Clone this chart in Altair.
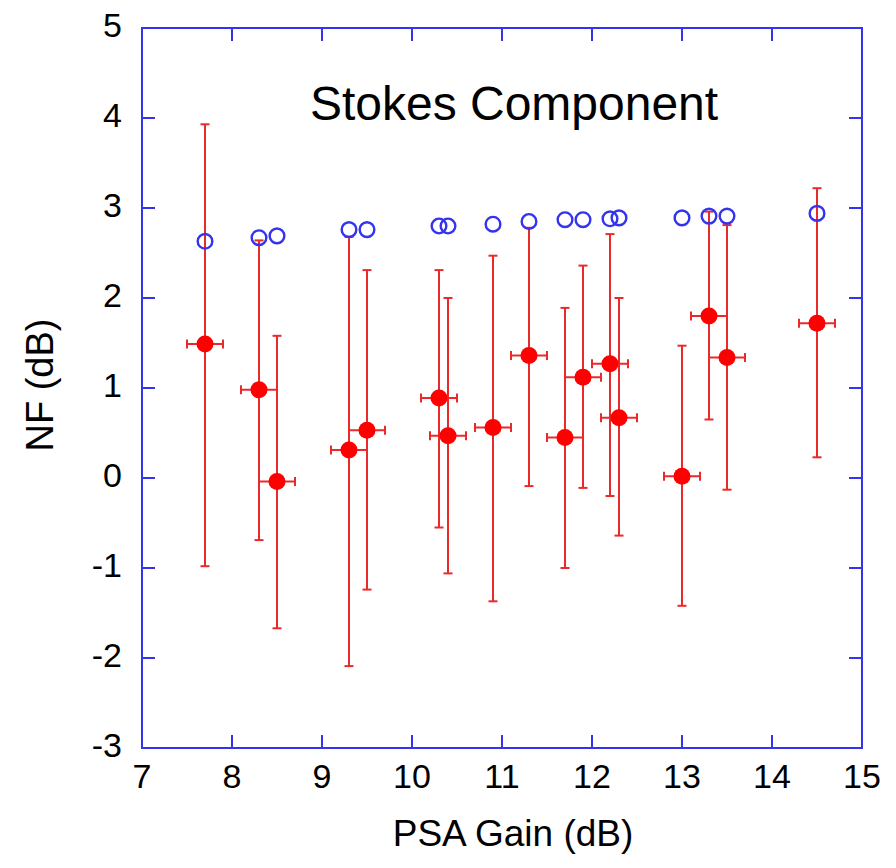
import altair as alt
import pandas as pd

# ---- data ----
gain = [7.7, 8.3, 8.5, 9.3, 9.5, 10.3, 10.4, 10.9, 11.3, 11.7, 11.9, 12.2, 12.3, 13.0, 13.3, 13.5, 14.5]
gain_err = [0.2] * 17
nf_meas = [1.49, 0.98, -0.04, 0.31, 0.53, 0.89, 0.47, 0.56, 1.36, 0.45, 1.12, 1.27, 0.67, 0.02, 1.80, 1.34, 1.72]
nf_hi = [3.93, 2.64, 1.58, 2.68, 2.31, 2.31, 2.00, 2.47, 2.78, 1.89, 2.36, 2.71, 2.00, 1.47, 2.96, 2.81, 3.22]
nf_lo = [-0.98, -0.69, -1.67, -2.09, -1.24, -0.55, -1.06, -1.37, -0.09, -1.00, -0.11, -0.20, -0.64, -1.42, 0.65, -0.13, 0.23]
nf_theory = [2.63, 2.67, 2.69, 2.76, 2.76, 2.80, 2.80, 2.82, 2.85, 2.87, 2.87, 2.88, 2.89, 2.89, 2.91, 2.91, 2.94]

x_labels = [7, 8, 9, 10, 11, 12, 13, 14, 15]
y_labels = [-3, -2, -1, 0, 1, 2, 3, 4, 5]
x_inner_ticks = [8, 9, 10, 11, 12, 13, 14]
y_inner_ticks = [-2, -1, 0, 1, 2, 3, 4]
title_text = ["Stokes Component"]
x_title = ["PSA Gain (dB)"]
y_title = ["NF (dB)"]

df = pd.DataFrame({
    "gain": gain,
    "gerr": gain_err,
    "nf": nf_meas,
    "hi": nf_hi,
    "lo": nf_lo,
    "theory": nf_theory,
})
df["glo"] = df["gain"] - df["gerr"]
df["ghi"] = df["gain"] + df["gerr"]

BLUE = "#3434ee"
RED = "#ff0000"
EB = "#ea2a2a"
FONT = "Liberation Sans"
W = 720
H = 720
TICK = 13
LBL = 34
TTL = 37

xs = alt.Scale(domain=[7, 15], nice=False, zero=False)
ys = alt.Scale(domain=[-3, 5], nice=False, zero=False)

base = alt.Chart(df)
X = lambda f: alt.X(f, scale=xs, axis=None)
Y = lambda f: alt.Y(f, scale=ys, axis=None)

vbars = base.mark_rule(color=EB, strokeWidth=2).encode(x=X("gain:Q"), y=Y("lo:Q"), y2="hi:Q")
cap_hi = base.mark_tick(orient="horizontal", color=EB, size=9, thickness=2, opacity=1).encode(
    x=X("gain:Q"), y=Y("hi:Q"))
cap_lo = base.mark_tick(orient="horizontal", color=EB, size=9, thickness=2, opacity=1).encode(
    x=X("gain:Q"), y=Y("lo:Q"))
hbars = base.mark_rule(color=EB, strokeWidth=2).encode(x=X("glo:Q"), x2="ghi:Q", y=Y("nf:Q"))
cap_l = base.mark_tick(orient="vertical", color=EB, size=9, thickness=2, opacity=1).encode(
    x=X("glo:Q"), y=Y("nf:Q"))
cap_r = base.mark_tick(orient="vertical", color=EB, size=9, thickness=2, opacity=1).encode(
    x=X("ghi:Q"), y=Y("nf:Q"))
dots = base.mark_point(shape="circle", filled=True, size=290, color=RED, opacity=1).encode(
    x=X("gain:Q"), y=Y("nf:Q"))
rings = base.mark_point(shape="circle", filled=False, size=215, color=BLUE, strokeWidth=2.4, opacity=1).encode(
    x=X("gain:Q"), y=Y("theory:Q"))

xt = alt.Chart(pd.DataFrame({"t": x_inner_ticks}))
yt = alt.Chart(pd.DataFrame({"t": y_inner_ticks}))
tick_bottom = xt.mark_rule(color=BLUE, strokeWidth=2).encode(
    x=X("t:Q"), y=alt.value(H), y2=alt.value(H - TICK))
tick_top = xt.mark_rule(color=BLUE, strokeWidth=2).encode(
    x=X("t:Q"), y=alt.value(0), y2=alt.value(TICK))
tick_left = yt.mark_rule(color=BLUE, strokeWidth=2).encode(
    y=Y("t:Q"), x=alt.value(0), x2=alt.value(TICK))
tick_right = yt.mark_rule(color=BLUE, strokeWidth=2).encode(
    y=Y("t:Q"), x=alt.value(W), x2=alt.value(W - TICK))

# axis labels drawn through the scales (plain hyphen minus, as in the reference)
xl = alt.Chart(pd.DataFrame({"v": x_labels})).mark_text(
    font=FONT, fontSize=LBL, color="black", align="center", baseline="alphabetic"
).encode(x=X("v:Q"), y=alt.value(H + 40), text="v:N")
yl = alt.Chart(pd.DataFrame({"v": y_labels})).mark_text(
    font=FONT, fontSize=LBL, color="black", align="right", baseline="middle", dy=-1
).encode(y=Y("v:Q"), x=alt.value(-20), text="v:N")

xtitle = alt.Chart(pd.DataFrame({"label": x_title})).mark_text(
    font=FONT, fontSize=TTL, color="black", align="center", baseline="alphabetic"
).encode(text="label:N", x=alt.value(W / 2 + 11), y=alt.value(H + 98))
ytitle = alt.Chart(pd.DataFrame({"label": y_title})).mark_text(
    font=FONT, fontSize=38, color="black", align="center", baseline="alphabetic", angle=270
).encode(text="label:N", x=alt.value(-89), y=alt.value(H / 2 - 3))

title = alt.Chart(pd.DataFrame({"label": title_text})).mark_text(
    font=FONT, fontSize=48, color="black", align="center", baseline="alphabetic"
).encode(text="label:N", x=alt.value(372), y=alt.value(92))

chart = alt.layer(
    vbars, cap_hi, cap_lo, hbars, cap_l, cap_r, dots, rings,
    tick_bottom, tick_top, tick_left, tick_right,
    xl, yl, xtitle, ytitle, title,
).properties(
    width=W, height=H,
    padding={"left": 134, "top": 20, "right": 20, "bottom": 106},
    autosize=alt.AutoSizeParams(type="none"),
    background="white",
).configure_view(
    stroke=BLUE, strokeWidth=2
)

chart.save("out.html", embed_options={"renderer": "svg", "actions": False})
